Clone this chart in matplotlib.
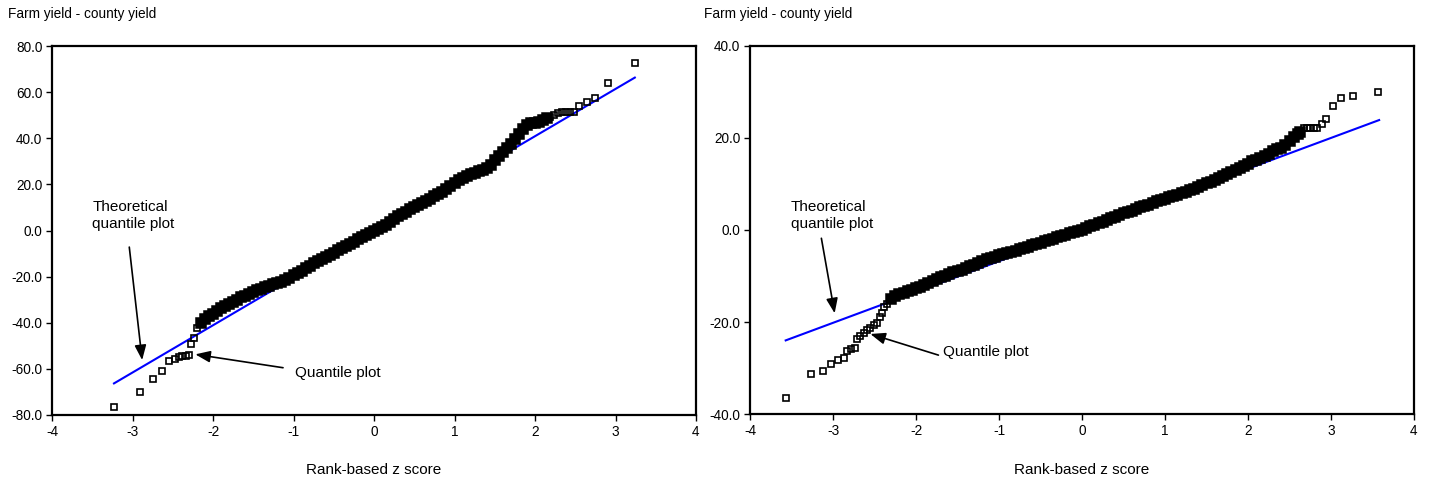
import matplotlib
matplotlib.use("Agg")
import matplotlib.pyplot as plt

plt.rcParams['font.family'] = ['Liberation Sans', 'DejaVu Sans']
plt.rcParams['axes.unicode_minus'] = False

# ---- left panel: sparse tails (hollow squares) ----
left_tail_z = [-3.23, -2.91, -2.74, -2.63, -2.55, -2.47, -2.42, -2.38, -2.34, -2.30, -2.27, -2.23, -2.20,
               2.19, 2.23, 2.28, 2.33, 2.39, 2.43, 2.49, 2.55, 2.64, 2.75, 2.91, 3.24]
left_tail_y = [-76.4, -70.2, -64.4, -60.8, -56.5, -55.7, -55.0, -54.6, -54.3, -54.0, -49.1, -46.6, -42.4,
               49.3, 50.1, 50.8, 51.3, 51.3, 51.3, 51.5, 54.1, 55.9, 57.6, 63.8, 72.5]

# ---- left panel: dense body ----
left_body_z = [-2.15, -2.10, -2.05, -2.00, -1.95, -1.90, -1.85, -1.80, -1.75, -1.70, -1.65, -1.60, -1.55,
               -1.50, -1.45, -1.40, -1.35, -1.30, -1.25, -1.20, -1.15, -1.10, -1.05, -1.00, -0.95, -0.90,
               -0.85, -0.80, -0.75, -0.70, -0.65, -0.60, -0.55, -0.50, -0.45, -0.40, -0.35, -0.30, -0.25,
               -0.20, -0.15, -0.10, -0.05, 0.00, 0.05, 0.10, 0.15, 0.20, 0.25, 0.30, 0.35, 0.40, 0.45,
               0.50, 0.55, 0.60, 0.65, 0.70, 0.75, 0.80, 0.85, 0.90, 0.95, 1.00, 1.05, 1.10, 1.15, 1.20,
               1.25, 1.30, 1.35, 1.40, 1.45, 1.50, 1.55, 1.60, 1.65, 1.70, 1.75, 1.80, 1.85, 1.90, 1.95,
               2.00, 2.05, 2.10, 2.15]
left_body_y = [-40.0, -38.3, -37.0, -36.0, -35.0, -33.8, -32.8, -31.8, -31.0, -30.2, -29.0, -28.3, -27.5,
               -26.8, -26.0, -25.3, -24.7, -24.0, -23.3, -22.8, -22.2, -21.4, -20.5, -19.5, -18.5, -17.4,
               -16.3, -15.3, -14.3, -13.4, -12.5, -11.5, -10.6, -9.6, -8.6, -7.7, -6.8, -5.8, -4.9,
               -3.9, -3.0, -2.0, -1.1, -0.2, 0.7, 1.6, 2.5, 3.8, 5.0, 6.2, 7.3, 8.2, 9.2,
               10.1, 10.9, 11.8, 12.8, 13.8, 14.8, 15.8, 16.8, 18.0, 19.3, 20.6, 21.8, 22.9, 23.8, 24.5,
               25.0, 25.6, 26.2, 27.2, 28.6, 30.4, 32.4, 34.0, 35.6, 37.5, 39.6, 41.7, 44.0, 45.7, 46.4,
               46.8, 47.2, 47.8, 48.6]

left_line_z = [-3.23, 3.24]
left_line_y = [-66.3, 66.3]

# ---- right panel ----
right_tail_z = [-3.57, -3.27, -3.12, -3.02, -2.94, -2.87, -2.83, -2.78, -2.73, -2.71, -2.67, -2.63, -2.59,
                -2.55, -2.51, -2.47, -2.43, -2.41, -2.39, -2.35,
                2.67, 2.71, 2.75, 2.79, 2.83, 2.89, 2.94, 3.02, 3.12, 3.27, 3.57]
right_tail_y = [-36.5, -31.3, -30.6, -29.2, -28.3, -27.8, -26.2, -25.9, -25.6, -23.8, -23.0, -22.3, -21.7,
                -21.3, -20.7, -20.3, -19.0, -18.1, -16.8, -16.0,
                22.1, 22.2, 22.2, 22.2, 22.2, 23.0, 24.1, 27.0, 28.7, 29.1, 30.0]

right_body_z = [-2.30, -2.25, -2.20, -2.15, -2.10, -2.05, -2.00, -1.95, -1.90, -1.85, -1.80, -1.75, -1.70,
                -1.65, -1.60, -1.55, -1.50, -1.45, -1.40, -1.35, -1.30, -1.25, -1.20, -1.15, -1.10, -1.05,
                -1.00, -0.95, -0.90, -0.85, -0.80, -0.75, -0.70, -0.65, -0.60, -0.55, -0.50, -0.45, -0.40,
                -0.35, -0.30, -0.25, -0.20, -0.15, -0.10, -0.05, 0.00, 0.05, 0.10, 0.15, 0.20, 0.25, 0.30,
                0.35, 0.40, 0.45, 0.50, 0.55, 0.60, 0.65, 0.70, 0.75, 0.80, 0.85, 0.90, 0.95, 1.00, 1.05,
                1.10, 1.15, 1.20, 1.25, 1.30, 1.35, 1.40, 1.45, 1.50, 1.55, 1.60, 1.65, 1.70, 1.75, 1.80,
                1.85, 1.90, 1.95, 2.00, 2.05, 2.10, 2.15, 2.20, 2.25, 2.30, 2.35, 2.40, 2.45, 2.50, 2.55,
                2.60, 2.63]
right_body_y = [-15.0, -14.4, -13.9, -13.6, -13.3, -13.0, -12.7, -12.3, -11.9, -11.5, -11.1, -10.7, -10.3,
                -9.9, -9.5, -9.2, -8.9, -8.6, -8.3, -7.9, -7.5, -7.1, -6.7, -6.4, -6.1, -5.8,
                -5.5, -5.3, -5.0, -4.8, -4.5, -4.2, -3.9, -3.6, -3.3, -3.0, -2.8, -2.5, -2.2,
                -1.9, -1.6, -1.3, -1.0, -0.7, -0.5, -0.2, 0.1, 0.4, 0.8, 1.1, 1.5, 1.8, 2.2,
                2.5, 2.9, 3.2, 3.6, 3.9, 4.2, 4.6, 4.9, 5.2, 5.5, 5.9, 6.2, 6.5, 6.8, 7.1,
                7.4, 7.7, 8.0, 8.3, 8.7, 9.0, 9.4, 9.8, 10.2, 10.5, 10.8, 11.2, 11.7, 12.2, 12.7,
                13.1, 13.5, 13.9, 14.4, 14.9, 15.3, 15.7, 16.1, 16.6, 17.1, 17.5, 17.9, 18.5, 19.3, 20.2,
                20.9, 21.4]

right_line_z = [-3.57, 3.58]
right_line_y = [-24.0, 23.9]

W, H = 1429, 482
fig = plt.figure(figsize=(W / 100, H / 100), dpi=100)


def setup(ax, ylim, yticks):
    ax.set_xlim(-4, 4)
    ax.set_ylim(*ylim)
    ax.set_xticks(range(-4, 5))
    ax.set_yticks(yticks)
    ax.set_yticklabels([f"{v:.1f}" for v in yticks])
    for s in ax.spines.values():
        s.set_linewidth(1.6)
    ax.tick_params(direction='out', length=4, width=1, labelsize=9.8, pad=3)


def draw(ax, tz, ty, bz, by, lz, ly):
    ax.plot(lz, ly, color='#0000ff', lw=1.5, zorder=2)
    # dense run of overlapping squares reads as a solid band
    ax.plot(bz, by, ls='none', marker='s', ms=7.5, mfc='black', mec='black', mew=1.1, zorder=3)
    ax.plot(tz, ty, ls='none', marker='s', ms=4.8, mfc='none', mec='black', mew=1.2, zorder=3)


arrow = dict(arrowstyle='-|>,head_length=0.9,head_width=0.35', color='black', lw=1.2, shrinkA=0, shrinkB=0)

# left
ax1 = fig.add_axes([52 / W, 1 - 415 / H, 644 / W, 369 / H])
setup(ax1, (-80, 80), [-80, -60, -40, -20, 0, 20, 40, 60, 80])
draw(ax1, left_tail_z, left_tail_y, left_body_z, left_body_y, left_line_z, left_line_y)
ax1.text(-3.50, 13.2, "Theoretical\nquantile plot", fontsize=11, ha='left', va='top', linespacing=1.25)
ax1.annotate('', xy=(-2.88, -56.2), xytext=(-3.04, -7.2), arrowprops=arrow)
ax1.text(-0.98, -61.8, "Quantile plot", fontsize=11, ha='left', va='center')
ax1.annotate('', xy=(-2.22, -53.7), xytext=(-1.13, -59.5), arrowprops=arrow)

# right
ax2 = fig.add_axes([750 / W, 1 - 414 / H, 664 / W, 368 / H])
setup(ax2, (-40, 40), [-40, -20, 0, 20, 40])
draw(ax2, right_tail_z, right_tail_y, right_body_z, right_body_y, right_line_z, right_line_y)
ax2.text(-3.51, 6.5, "Theoretical\nquantile plot", fontsize=11, ha='left', va='top', linespacing=1.25)
ax2.annotate('', xy=(-2.98, -18.1), xytext=(-3.14, -1.8), arrowprops=arrow)
ax2.text(-1.68, -26.5, "Quantile plot", fontsize=11, ha='left', va='center')
ax2.annotate('', xy=(-2.55, -22.6), xytext=(-1.73, -27.2), arrowprops=arrow)

fig.text(8 / W, 1 - 18 / H, "Farm yield - county yield", fontsize=9.8, ha='left', va='baseline')
fig.text(704 / W, 1 - 18 / H, "Farm yield - county yield", fontsize=9.8, ha='left', va='baseline')
fig.text(374 / W, 1 - 470 / H, "Rank-based z score", fontsize=11, ha='center', va='center')
fig.text(1082 / W, 1 - 470 / H, "Rank-based z score", fontsize=11, ha='center', va='center')

fig.savefig("out.png", dpi=100)
